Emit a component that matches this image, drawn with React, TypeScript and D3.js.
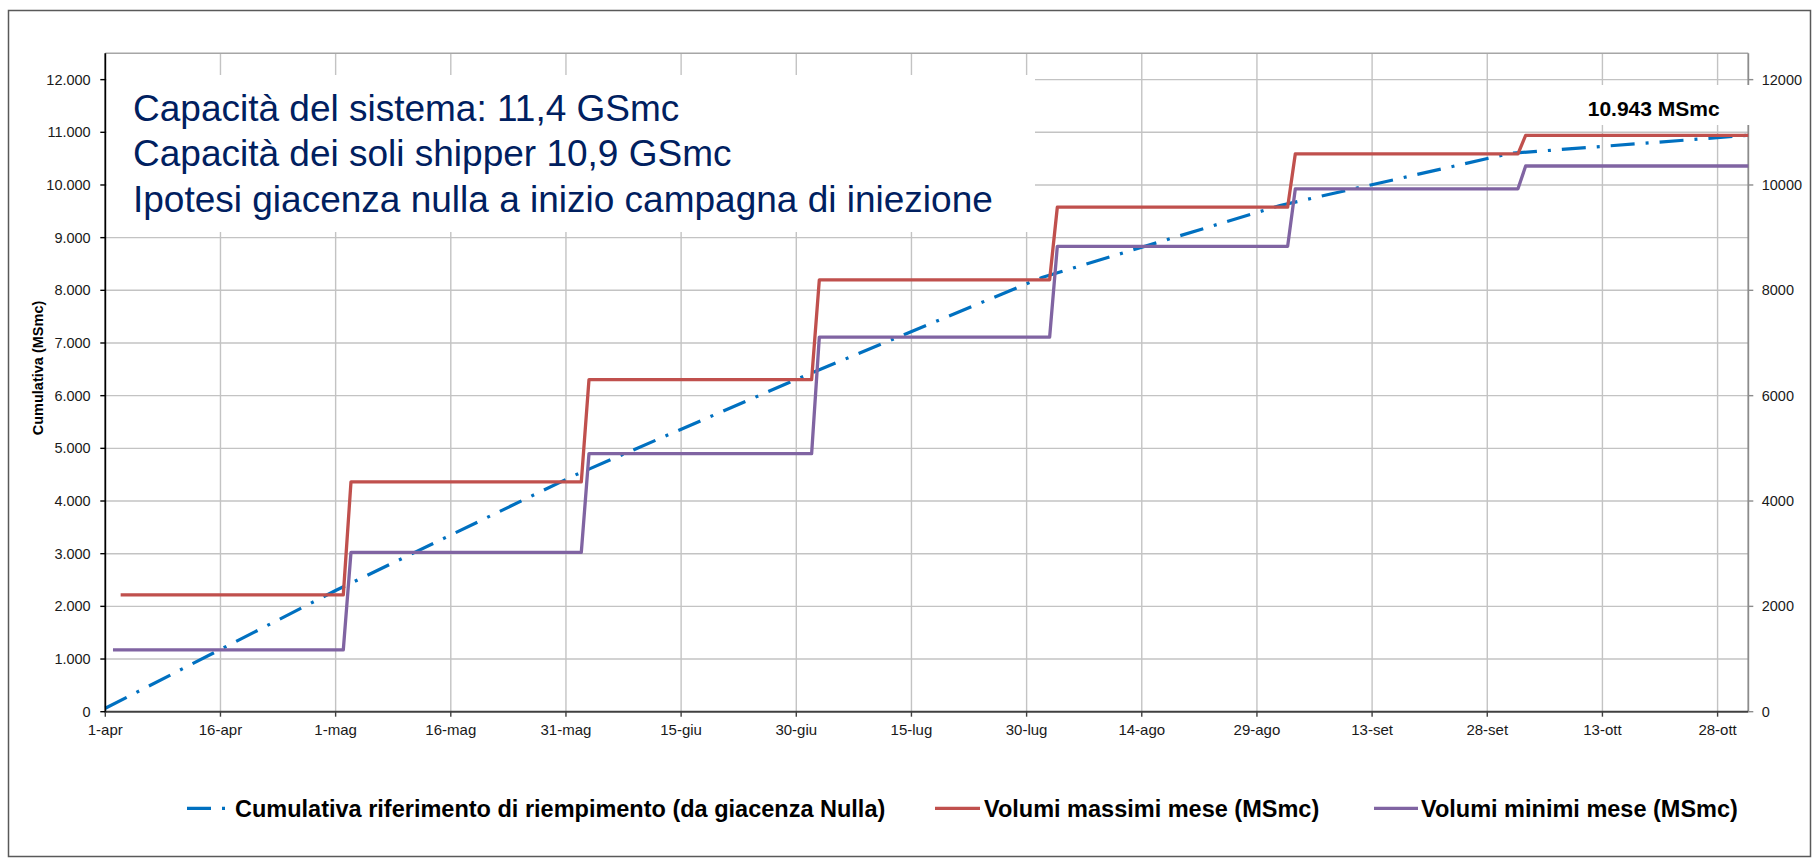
import React from 'react';
import * as d3 from 'd3';

// x axis tick labels, one every 15 days from 1-apr
const xTickLabels = ["1-apr", "16-apr", "1-mag", "16-mag", "31-mag", "15-giu", "30-giu", "15-lug", "30-lug", "14-ago", "29-ago", "13-set", "28-set", "13-ott", "28-ott"];

// monthly step series (MSmc)
const maxStart = ["2015-04-03", "2015-05-03", "2015-06-03", "2015-07-03", "2015-08-03", "2015-09-03", "2015-10-03"];
const minStart = ["2015-04-02", "2015-05-03", "2015-06-03", "2015-07-03", "2015-08-03", "2015-09-03", "2015-10-03"];
const stepEnd = ["2015-05-02", "2015-06-02", "2015-07-02", "2015-08-02", "2015-09-02", "2015-10-02", "2015-11-01"];
const maxVolumes = [2217, 4362, 6305, 8200, 9578, 10592, 10943];
const minVolumes = [1172, 3025, 4900, 7112, 8834, 9927, 10360];

// cumulative reference filling curve
const cumDates = ["2015-04-01", "2015-05-01", "2015-06-01", "2015-07-01", "2015-08-01", "2015-09-01", "2015-10-01", "2015-11-01"];
const cumValues = [65, 2300, 4480, 6370, 8245, 9610, 10600, 10943];

const leftTicks = d3.range(0, 12001, 1000);
const rightTicks = d3.range(0, 12001, 2000);

const noteLines = [
    "Capacità del sistema: 11,4 GSmc",
    "Capacità dei soli shipper 10,9 GSmc",
    "Ipotesi giacenza nulla a inizio campagna di iniezione",
];

const legendItems = [
    { label: "Cumulativa riferimento di riempimento (da giacenza Nulla)", color: "#0070C0", dashed: true, x: 187, x2: 226, tx: 235 },
    { label: "Volumi massimi mese (MSmc)", color: "#C0504D", dashed: false, x: 935, x2: 980, tx: 984 },
    { label: "Volumi minimi mese (MSmc)", color: "#8064A2", dashed: false, x: 1374, x2: 1418, tx: 1421 },
];

const FONT = "'Liberation Sans', Arial, sans-serif";
const DASH = "24 11 3 11";

const App = () => {
    const parse = d3.timeParse("%Y-%m-%d");
    const t0 = parse("2015-04-01");
    const t1 = parse("2015-11-01");

    const plot = { left: 105.3, right: 1748.3, top: 53.3, bottom: 711.7 };

    const x = d3.scaleTime().domain([t0, t1]).range([plot.left, plot.right]);
    const y = d3.scaleLinear().domain([0, 12500]).range([plot.bottom, plot.top]);

    const itFormat = d3.formatLocale({ decimal: ",", thousands: ".", grouping: [3], currency: ["", ""] }).format(",");

    const xTicks = xTickLabels.map((label, i) => ({ label, date: d3.timeDay.offset(t0, i * 15) }));

    const steps = (starts, values) => values.flatMap((v, i) => [
        { date: parse(starts[i]), v },
        { date: parse(stepEnd[i]), v },
    ]);
    const maxData = steps(maxStart, maxVolumes);
    const minData = steps(minStart, minVolumes);
    const cumData = cumDates.map((d, i) => ({ date: parse(d), v: cumValues[i] }));

    const line = d3.line().x(d => x(d.date)).y(d => y(d.v));

    return (
        <svg width={1814} height={859} style={{ position: 'absolute', left: 0, top: 0 }} fontFamily={FONT}>
            <rect x={0} y={0} width={1814} height={859} fill="#fff" />
            <rect x={8.5} y={10.5} width={1802} height={846} fill="none" stroke="#595959" strokeWidth={1.5} />

            {/* grid */}
            {leftTicks.filter(t => t > 0).map(t => (
                <line key={'h' + t} x1={plot.left} x2={plot.right} y1={y(t)} y2={y(t)} stroke="#c3c3c3" strokeWidth={1.4} />
            ))}
            {xTicks.slice(1).map(t => (
                <line key={'v' + t.label} x1={x(t.date)} x2={x(t.date)} y1={plot.top} y2={plot.bottom} stroke="#c3c3c3" strokeWidth={1.4} />
            ))}
            <line x1={plot.left} x2={plot.right} y1={plot.top} y2={plot.top} stroke="#a6a6a6" strokeWidth={1.5} />
            <line x1={plot.right} x2={plot.right} y1={plot.top} y2={plot.bottom} stroke="#8c8c8c" strokeWidth={1.8} />

            {/* note box */}
            <rect x={106.5} y={75} width={928.5} height={157} fill="#fff" />
            {noteLines.map((s, i) => (
                <text key={s} x={133} y={120.7 + i * 45.5} fontSize={37} fill="#002060">{s}</text>
            ))}

            {/* series */}
            <path d={line(cumData)} fill="none" stroke="#0070C0" strokeWidth={3.2} strokeDasharray={DASH} />
            <path d={line(maxData)} fill="none" stroke="#C0504D" strokeWidth={3.3} strokeLinejoin="round" />
            <path d={line(minData)} fill="none" stroke="#8064A2" strokeWidth={3.3} strokeLinejoin="round" />

            {/* final value label */}
            <rect x={1560} y={85} width={192} height={40} fill="#fff" />
            <text x={1653.7} y={116} textAnchor="middle" fontSize={21} fontWeight="bold" fill="#000">
                {itFormat(maxVolumes[maxVolumes.length - 1]) + " MSmc"}
            </text>

            {/* axes */}
            <line x1={plot.left} x2={plot.right} y1={plot.bottom} y2={plot.bottom} stroke="#404040" strokeWidth={2} />
            <line x1={plot.left} x2={plot.left} y1={plot.top} y2={plot.bottom + 1} stroke="#000" strokeWidth={1.8} />
            {leftTicks.map(t => (
                <g key={'l' + t}>
                    <line x1={plot.left - 5} x2={plot.left} y1={y(t)} y2={y(t)} stroke="#000" strokeWidth={1.4} />
                    <text x={90.7} y={y(t)} dy="0.35em" textAnchor="end" fontSize={14.5} fill="#1a1a1a">{itFormat(t)}</text>
                </g>
            ))}
            {rightTicks.map(t => (
                <g key={'r' + t}>
                    <line x1={plot.right} x2={plot.right + 5} y1={y(t)} y2={y(t)} stroke="#8c8c8c" strokeWidth={1.4} />
                    <text x={1761.7} y={y(t)} dy="0.35em" fontSize={14.5} fill="#1a1a1a">{t}</text>
                </g>
            ))}
            {xTicks.map(t => (
                <g key={'x' + t.label}>
                    <line x1={x(t.date)} x2={x(t.date)} y1={plot.bottom} y2={plot.bottom + 5} stroke="#404040" strokeWidth={1.4} />
                    <text x={x(t.date)} y={735} textAnchor="middle" fontSize={15} fill="#1a1a1a">{t.label}</text>
                </g>
            ))}
            <text transform="translate(43,368) rotate(-90)" textAnchor="middle" fontSize={14.5} fontWeight="bold" fill="#000">
                Cumulativa (MSmc)
            </text>

            {/* legend */}
            {legendItems.map(it => (
                <g key={it.label}>
                    <line x1={it.x} x2={it.x2} y1={808.3} y2={808.3} stroke={it.color} strokeWidth={3.3}
                        strokeDasharray={it.dashed ? DASH : undefined} />
                    <text x={it.tx} y={816.6} fontSize={23.5} fontWeight="bold" fill="#000">{it.label}</text>
                </g>
            ))}
        </svg>
    );
};

export default App;
